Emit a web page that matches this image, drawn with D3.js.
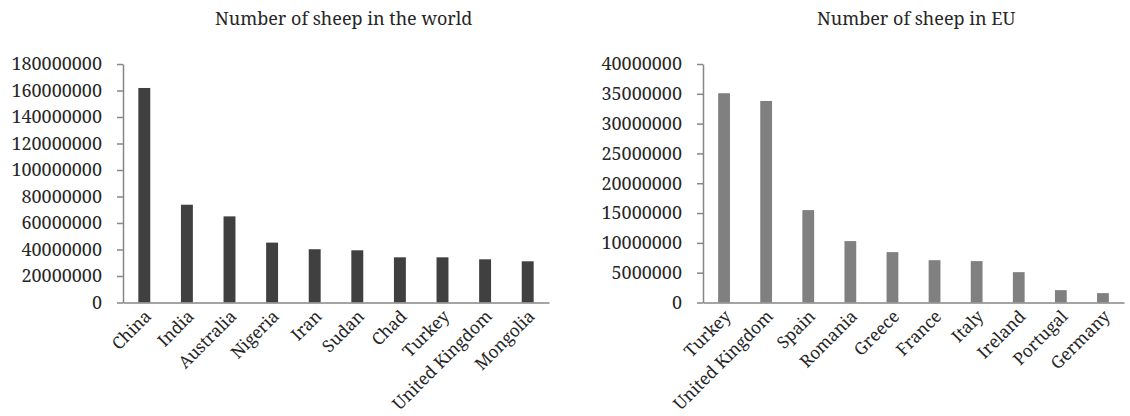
<!DOCTYPE html>
<html>
<head>
<meta charset="utf-8">
<script src="https://cdn.jsdelivr.net/npm/d3@7"></script>
<style>
  body { margin: 0; background: #fff; }
  svg { display: block; }
  text { font-family: "Noto Serif", "DejaVu Serif", serif; fill: #262626; }
</style>
</head>
<body>
<svg id="chart"></svg>
<script>
/* globals d3 */
var worldCountries = ["China", "India", "Australia", "Nigeria", "Iran", "Sudan",
  "Chad", "Turkey", "United Kingdom", "Mongolia"];
var worldSheep = [161900000, 73800000, 65000000, 45200000, 40200000, 39400000,
  34100000, 34100000, 32600000, 31100000];
var worldTicks = [0, 20000000, 40000000, 60000000, 80000000, 100000000,
  120000000, 140000000, 160000000, 180000000];

var euCountries = ["Turkey", "United Kingdom", "Spain", "Romania", "Greece",
  "France", "Italy", "Ireland", "Portugal", "Germany"];
var euSheep = [35100000, 33800000, 15500000, 10300000, 8450000, 7100000,
  6940000, 5090000, 2070000, 1570000];
var euTicks = [0, 5000000, 10000000, 15000000, 20000000, 25000000,
  30000000, 35000000, 40000000];

(function () {
  var width = 1130;
  var height = 416;
  var top = 64;
  var bottom = 302.5;

  var svg = d3.select("#chart")
    .attr("width", width)
    .attr("height", height);

  var drawPanel = function (opts) {
    var x = d3.scaleBand()
      .domain(opts.categories)
      .range([opts.left, opts.right])
      .paddingInner(0.72)
      .paddingOuter(0.36);

    var y = d3.scaleLinear()
      .domain([0, opts.max])
      .range([bottom, top]);

    var g = svg.append("g");

    // bars
    g.selectAll("rect")
      .data(opts.values)
      .enter().append("rect")
      .attr("x", function (d, i) { return x(opts.categories[i]); })
      .attr("y", function (d) { return y(d); })
      .attr("width", x.bandwidth())
      .attr("height", function (d) { return bottom - y(d); })
      .style("fill", opts.color);

    // y axis
    var yAxis = g.append("g")
      .attr("transform", "translate(" + opts.left + ",0)")
      .call(d3.axisLeft(y).tickValues(opts.ticks).tickSize(6).tickSizeOuter(0)
        .tickPadding(15).tickFormat(d3.format("d")));
    yAxis.selectAll("text")
      .style("font-size", "18px")
      .style("fill", "#262626");

    // x axis, labels turned 45 degrees
    var xAxis = g.append("g")
      .attr("transform", "translate(0," + bottom + ")")
      .call(d3.axisBottom(x).tickSize(0).tickSizeOuter(0));
    xAxis.selectAll("text")
      .style("font-size", "17px")
      .style("fill", "#262626")
      .attr("text-anchor", "end")
      .attr("y", 0)
      .attr("dy", 0)
      .attr("transform", "translate(8,15) rotate(-45)");

    g.selectAll(".domain, .tick line")
      .style("stroke", "#868686")
      .style("stroke-width", 1.5);
    g.selectAll("g").attr("font-family", null).attr("font-size", null);

    svg.append("text")
      .attr("x", opts.titleX)
      .attr("y", 25)
      .style("font-size", "18px")
      .text(opts.title);
  };

  drawPanel({
    categories: worldCountries, values: worldSheep, ticks: worldTicks,
    max: 180000000, left: 123, right: 549, color: "#404040",
    title: "Number of sheep in the world", titleX: 215
  });

  drawPanel({
    categories: euCountries, values: euSheep, ticks: euTicks,
    max: 40000000, left: 703, right: 1124, color: "#808080",
    title: "Number of sheep in EU", titleX: 817
  });
}());
</script>
</body>
</html>
